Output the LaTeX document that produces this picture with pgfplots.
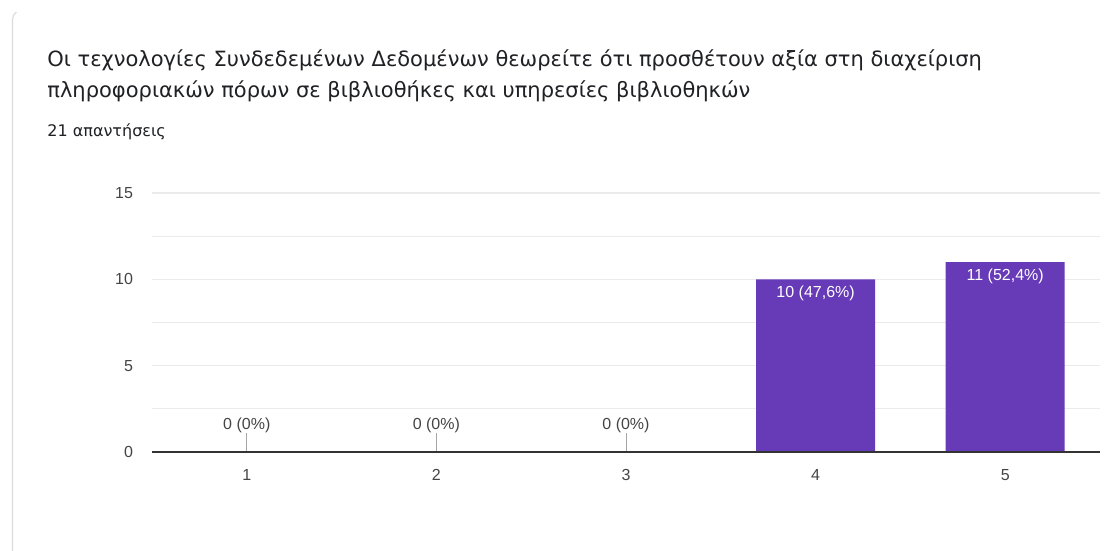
\documentclass[border=0pt]{standalone}
\usepackage{fontspec}
\setmainfont{Liberation Sans}
\newfontfamily\titlefont{DejaVu Sans}
\usepackage{pgfplots}
\pgfplotsset{compat=1.18}
\definecolor{barpurple}{HTML}{673AB7}
\definecolor{titlecol}{HTML}{202124}
\definecolor{labcol}{HTML}{444444}
\definecolor{gridcol}{HTML}{EBEBEB}
\definecolor{cardline}{HTML}{DADCE0}
\definecolor{axisdark}{HTML}{333333}
\begin{document}
\begin{tikzpicture}
\useasboundingbox (0,0) rectangle (552.5pt,275.5pt);
\fill[white] (0,0) rectangle (552.5pt,275.5pt);
\draw[cardline, line width=0.6pt] (6.25pt,0) -- (6.25pt,266pt) arc (180:120:4pt);
\node[anchor=base west, inner sep=0, text=titlecol, font=\titlefont\fontsize{10.5}{12}\selectfont] at (23.5pt,242pt) {Οι τεχνολογίες Συνδεδεμένων Δεδομένων θεωρείτε ότι προσθέτουν αξία στη διαχείριση};
\node[anchor=base west, inner sep=0, text=titlecol, font=\titlefont\fontsize{10.5}{12}\selectfont] at (23.5pt,226.5pt) {πληροφοριακών πόρων σε βιβλιοθήκες και υπηρεσίες βιβλιοθηκών};
\node[anchor=base west, inner sep=0, text=titlecol, font=\titlefont\fontsize{8}{9}\selectfont] at (23.5pt,207pt) {21 απαντήσεις};
\begin{axis}[
  at={(76pt,49.5pt)}, anchor=south west,
  scale only axis, width=474pt, height=129.5pt,
  xmin=0.5, xmax=5.5, ymin=0, ymax=15,
  xtick={1,2,3,4,5},
  ytick={0,5,10,15},
  minor ytick={2.5,7.5,12.5},
  ymajorgrids, yminorgrids,
  major grid style={gridcol, line width=0.6pt},
  minor grid style={gridcol, line width=0.6pt},
  axis line style={draw=none},
  major tick length=0pt, minor tick length=0pt,
  tick style={draw=none},
  ticklabel style={font=\fontsize{8}{9}\selectfont, text=labcol},
  /pgf/number format/assume math mode=true,
  yticklabel style={xshift=-6pt},
  xticklabel style={yshift=-5pt},
  clip=false,
]
\addplot[ybar, bar width=59.5pt, fill=barpurple, draw=none,
  nodes near coords, point meta=explicit symbolic,
  nodes near coords style={anchor=north, text=white, inner sep=3pt, font=\fontsize{8}{9}\selectfont}]
  coordinates {(4,10) [10 (47,6\%)] (5,11) [11 (52,4\%)]};
\addplot[ybar, bar width=59.5pt, fill=none, draw=none,
  nodes near coords, point meta=explicit symbolic,
  nodes near coords style={anchor=south, text=labcol, inner sep=0pt, yshift=9.5pt, font=\fontsize{8}{9}\selectfont}]
  coordinates {(1,0) [0 (0\%)] (2,0) [0 (0\%)] (3,0) [0 (0\%)]};
\draw[gray!70, line width=0.5pt] (axis cs:1,0) -- ([yshift=9.5pt]axis cs:1,0);
\draw[gray!70, line width=0.5pt] (axis cs:2,0) -- ([yshift=9.5pt]axis cs:2,0);
\draw[gray!70, line width=0.5pt] (axis cs:3,0) -- ([yshift=9.5pt]axis cs:3,0);
\draw[axisdark, line width=1pt] (axis cs:0.5,0) -- (axis cs:5.5,0);
\end{axis}
\end{tikzpicture}
\end{document}
